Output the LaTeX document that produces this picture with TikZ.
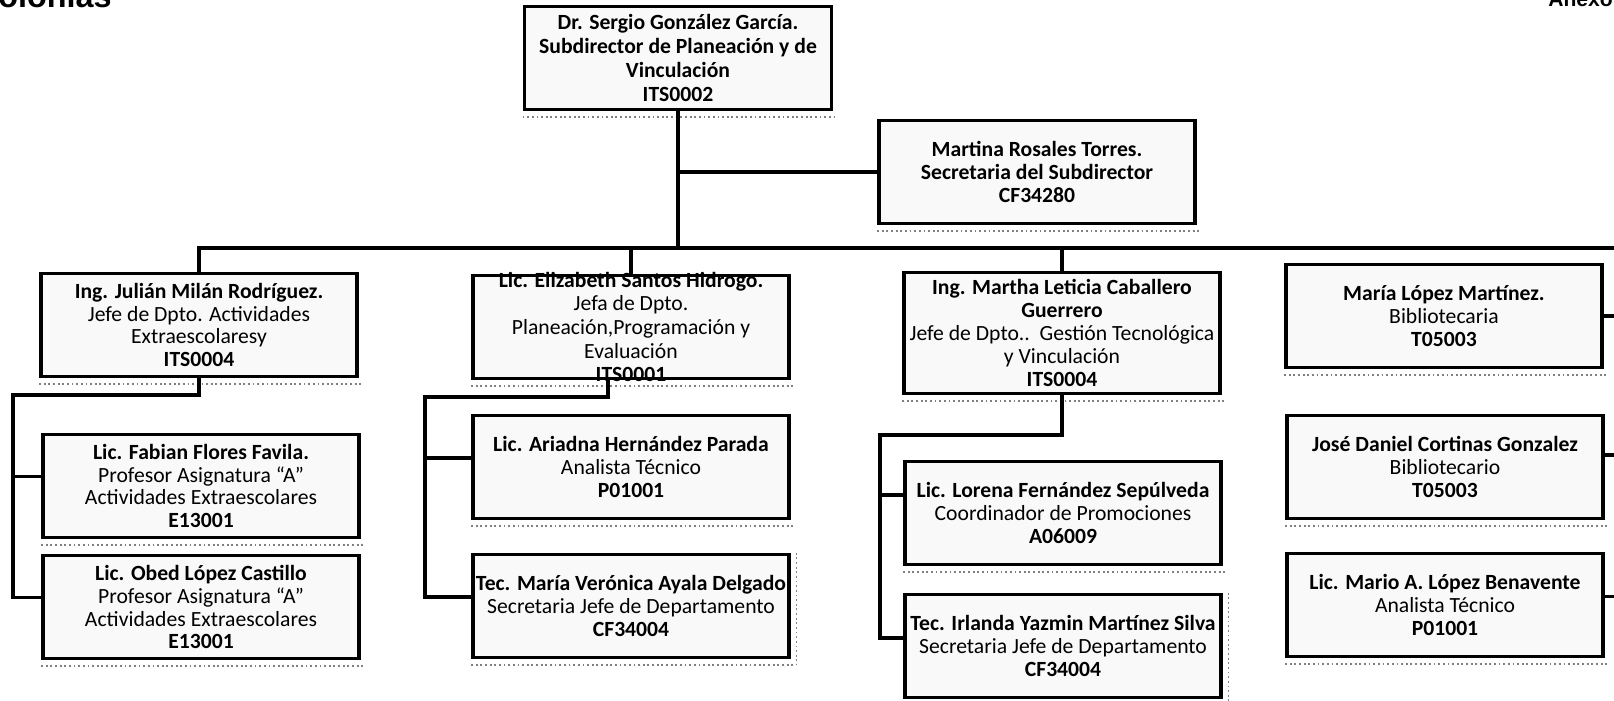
\documentclass[tikz,border=0pt]{standalone}
\usepackage{fontspec}
\setmainfont{Carlito}
\newfontfamily\headfont{Liberation Sans}
\usetikzlibrary{positioning}

\begin{document}
\begin{tikzpicture}[
    x=0.025cm, y=-0.025cm,
    box/.style={draw, line width=2.6pt, fill=gray!5, align=center, inner sep=0.5pt,
                minimum width=7.9cm, minimum height=2.57cm, font=\fontsize{15.4}{16.3}\selectfont},
    link/.style={line width=2.3pt},
    shade/.style={gray, line width=1.3pt, dotted},
    head/.style={anchor=base west, inner sep=0pt, font=\headfont\bfseries\fontsize{23}{26}\selectfont}
]
\useasboundingbox (0,0) rectangle (1614,701);

% Page headers (cut by the page edge)
\node[head] (colonias) at (-2,8) {olonias};
\node[head, font=\headfont\bfseries\fontsize{15}{18}\selectfont] (anexo) at (1548,7) {Anexo};

% Subdirector and secretary
\node[box, minimum width=7.675cm, font=\fontsize{15.4}{17}\selectfont] (sub) at (678,58) {\textbf{Dr. Sergio González García.}\\\textbf{Subdirector de Planeación y de}\\\textbf{Vinculación}\\\textbf{ITS0002}};
\node[box] (sec) at (1037,172) {\textbf{Martina Rosales Torres.}\\\textbf{Secretaria del Subdirector}\\\textbf{CF34280}};

% Column 1: Actividades Extraescolares
\node[box] (jul) at (199,325) {\textbf{Ing. Julián Milán Rodríguez.}\\Jefe de Dpto. Actividades\\Extraescolaresy\\\textbf{ITS0004}};
\node[box] (fab) at (201,486) {\textbf{Lic. Fabian Flores Favila.}\\Profesor Asignatura “A”\\Actividades Extraescolares\\\textbf{E13001}};
\node[box] (obed) at (201,607) {\textbf{Lic. Obed López Castillo}\\Profesor Asignatura “A”\\Actividades Extraescolares\\\textbf{E13001}};

% Column 2: Planeacion
\node[box, inner ysep=-8pt, font=\fontsize{15.4}{16.8}\selectfont] (eli) at (631,327) {\textbf{Lic. Elizabeth Santos Hidrogo.}\\Jefa de Dpto.\\Planeación,Programación y\\Evaluación\\\textbf{ITS0001}};
\node[box] (ari) at (631,467) {\textbf{Lic. Ariadna Hernández Parada}\\Analista Técnico\\\textbf{P01001}};
\node[box] (vero) at (631,606) {\textbf{Tec. María Verónica Ayala Delgado}\\Secretaria Jefe de Departamento\\\textbf{CF34004}};

% Column 3: Gestion Tecnologica
\node[box, minimum height=3.02cm] (mar) at (1062,333) {\textbf{Ing. Martha Leticia Caballero}\\\textbf{Guerrero}\\Jefe de Dpto..\ \ Gestión Tecnológica\\y Vinculación\\\textbf{ITS0004}};
\node[box] (lor) at (1063,513) {\textbf{Lic. Lorena Fernández Sepúlveda}\\Coordinador de Promociones\\\textbf{A06009}};
\node[box] (irl) at (1063,646) {\textbf{Tec. Irlanda Yazmin Martínez Silva}\\Secretaria Jefe de Departamento\\\textbf{CF34004}};

% Column 4: Biblioteca
\node[box] (maria) at (1444,316) {\textbf{María López Martínez.}\\Bibliotecaria\\\textbf{T05003}};
\node[box] (jose) at (1445,467) {\textbf{José Daniel Cortinas Gonzalez}\\Bibliotecario\\\textbf{T05003}};
\node[box] (mario) at (1445,605) {\textbf{Lic. Mario A. López Benavente}\\Analista Técnico\\\textbf{P01001}};

% Dotted shadows
\foreach \n in {sub,sec,jul,fab,obed,eli,ari,vero,mar,lor,irl,maria,jose,mario}
  \draw[shade] ([yshift=-4pt]\n.south west) -- ([yshift=-4pt, xshift=2pt]\n.south east);
\draw[shade] ([xshift=4pt]vero.north east) -- ([xshift=4pt, yshift=-4pt]vero.south east);
\draw[shade] ([xshift=4pt]irl.north east) -- ([xshift=4pt, yshift=-4pt]irl.south east);

% Main bus
\coordinate (busend) at (1620,248);
\coordinate (rim) at (1620,0);
\draw[link] (jul.north) |- (busend);
\draw[link] (sub.south) -- (sub.south |- busend);
\draw[link] (sec.west) -- (sec.west -| sub.south);
\draw[link] (eli.north) -- (eli.north |- busend);
\draw[link] (mar.north) -- (mar.north |- busend);

% Column 1 branches
\coordinate (jturn) at (13,395);
\coordinate (fabin) at ([yshift=6.5pt]fab.west);
\coordinate (obedin) at ([yshift=7pt]obed.west);
\draw[link] (jul.south) |- (jturn) |- (obedin);
\draw[link] (fabin) -- (fabin -| jturn);

% Column 2 branches
\coordinate (eliout) at ([xshift=-16.4pt]eli.south);
\coordinate (eturn) at (425,397);
\coordinate (ariin) at ([yshift=6.4pt]ari.west);
\coordinate (veroin) at ([yshift=6.4pt]vero.west);
\draw[link] (eliout) |- (eturn) |- (veroin);
\draw[link] (ariin) -- (ariin -| eturn);

% Column 3 branches
\coordinate (mturn) at (880,435);
\coordinate (lorin) at ([yshift=12.8pt]lor.west);
\coordinate (irlin) at ([yshift=5.7pt]irl.west);
\draw[link] (mar.south) |- (mturn) |- (irlin);
\draw[link] (lorin) -- (lorin -| mturn);

% Column 4 links to the right edge
\coordinate (josein) at ([yshift=8.5pt]jose.east);
\coordinate (marioin) at ([yshift=6pt]mario.east);
\draw[link] (maria.east) -- (maria.east -| rim);
\draw[link] (josein) -- (josein -| rim);
\draw[link] (marioin) -- (marioin -| rim);

\end{tikzpicture}
\end{document}
